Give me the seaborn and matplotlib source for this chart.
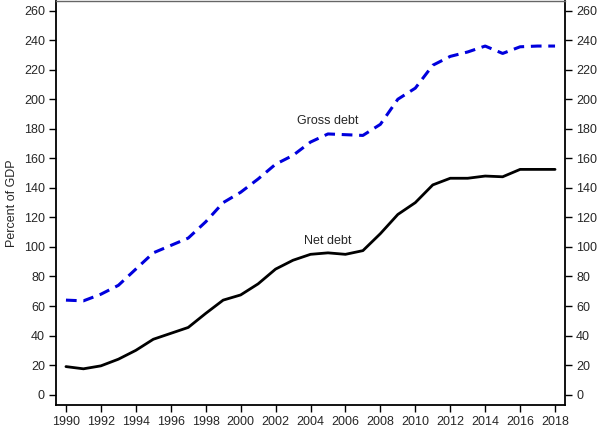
import matplotlib
matplotlib.use("Agg")
import matplotlib.pyplot as plt
import seaborn as sns
import pandas as pd

# Data
years = list(range(1990, 2019))
net_debt = [19, 17.5, 19.5, 24, 30, 37.5, 41.5, 45.5, 55, 64, 67.5, 75, 85, 91, 95,
            96, 95, 97.5, 109, 122, 130, 142, 146.5, 146.5, 148, 147.5, 152.5, 152.5, 152.5]
gross_debt = [64, 63.5, 68, 74, 85, 96, 101, 106, 117, 130, 137, 146, 156, 162, 171,
              176.5, 176, 175.5, 183, 200, 207.5, 223, 229, 232, 236, 231, 235.5, 236, 236]
y_ticks = list(range(0, 261, 20))
x_ticks = list(range(1990, 2019, 2))

df = pd.DataFrame({"year": years, "net": net_debt, "gross": gross_debt})

sns.set_style("white")
plt.rcParams['font.family'] = ['Liberation Sans', 'DejaVu Sans']

fig = plt.figure(figsize=(6, 4.28), dpi=100)
ax = fig.add_axes([56 / 600, 1 - 405 / 428, (565 - 56) / 600, (405 - 1) / 428])

sns.lineplot(data=df, x="year", y="gross", ax=ax, color="#0000dd",
             linewidth=2.2, linestyle=(0, (3.5, 2.2)))
sns.lineplot(data=df, x="year", y="net", ax=ax, color="black", linewidth=2)

ax.text(2005, 185, "Gross debt", ha="center", va="center", fontsize=9)
ax.text(2005, 104, "Net debt", ha="center", va="center", fontsize=9)

ax.set_xlim(1989.43, 2018.57)
ax.set_ylim(-7, 266.5)
ax.set_xticks(x_ticks)
ax.set_yticks(y_ticks)
ax.set_xlabel("")
ax.set_ylabel("Percent of GDP", fontsize=9)
ax.tick_params(axis="both", labelsize=9, length=5, width=1, direction="out",
               color="black", pad=3)
ax.tick_params(axis="y", left=True, right=True, labelright=True)
ax.tick_params(axis="x", bottom=True)

for side in ["left", "bottom", "right"]:
    ax.spines[side].set_color("black")
    ax.spines[side].set_linewidth(1.3)
ax.spines["top"].set_color("#666666")
ax.spines["top"].set_linewidth(1)

fig.savefig("out.png", dpi=100)
